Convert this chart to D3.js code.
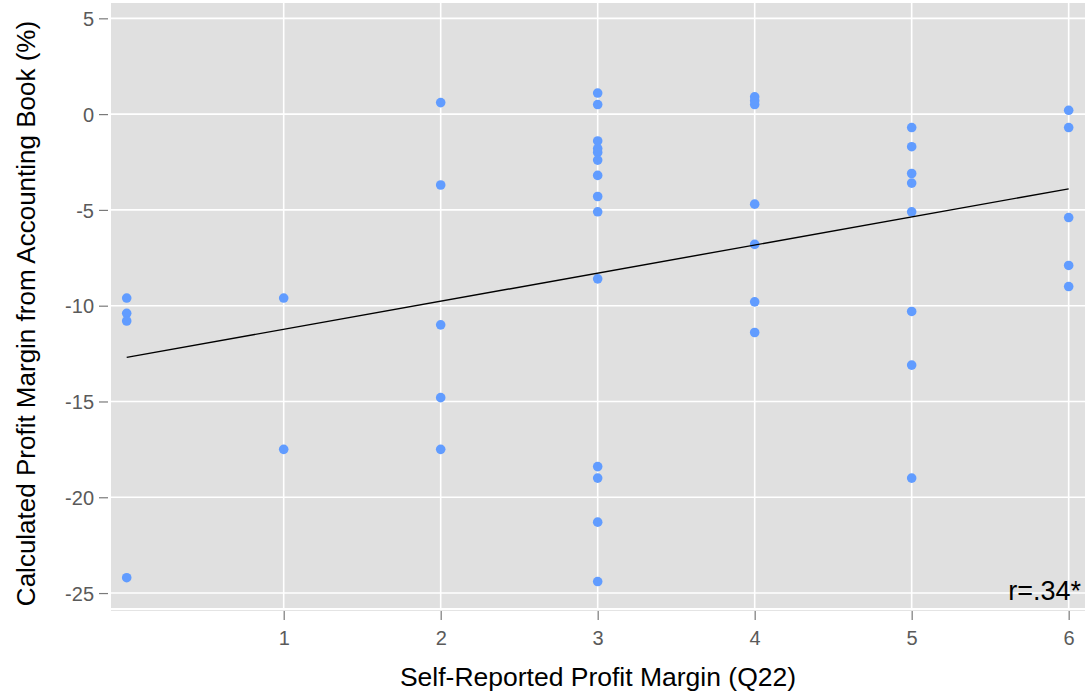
<!DOCTYPE html>
<html>
<head>
<meta charset="utf-8">
<script src="https://d3js.org/d3.v7.min.js"></script>
<style>
  body { margin: 0; background: #fff; }
  svg { display: block; font-family: "Liberation Sans", Arial, sans-serif; }
</style>
</head>
<body>
<div id="chart"></div>
<script>
'use strict';

// self-reported margin (Q22) for each respondent
var selfReported = [
  0, 0, 0, 0,
  1, 1,
  2, 2, 2, 2, 2,
  3, 3, 3, 3, 3, 3, 3, 3, 3, 3, 3, 3, 3, 3,
  4, 4, 4, 4, 4, 4, 4,
  5, 5, 5, 5, 5, 5, 5, 5,
  6, 6, 6, 6, 6
];
// calculated margin from the accounting book (%)
var calculated = [
  -9.6, -10.4, -10.8, -24.2,
  -9.6, -17.5,
  0.6, -3.7, -11.0, -14.8, -17.5,
  1.1, 0.5, -1.4, -1.8, -2.0, -2.4, -3.2, -4.3, -5.1, -8.6, -18.4, -19.0, -21.3, -24.4,
  0.9, 0.7, 0.5, -4.7, -6.8, -9.8, -11.4,
  -0.7, -1.7, -3.1, -3.6, -5.1, -10.3, -13.1, -19.0,
  0.2, -0.7, -5.4, -7.9, -9.0
];
// fitted line (x, y)
var fitX = [0, 6];
var fitY = [-12.7, -3.9];

var xTicks = [1, 2, 3, 4, 5, 6];
var yTicks = [5, 0, -5, -10, -15, -20, -25];

var W = 1087, H = 700;
var margin = { top: 3, right: 2, bottom: 92, left: 111 };
var width = W - margin.left - margin.right,
    height = H - margin.top - margin.bottom;

var x = d3.scaleLinear().domain([-0.1, 6.104]).range([0, width]);
var y = d3.scaleLinear().domain([-25.78, 5.8]).range([height, 0]);

var svg = d3.select('#chart').append('svg')
  .attr('width', W)
  .attr('height', H);

var g = svg.append('g')
  .attr('transform', 'translate(' + margin.left + ',' + margin.top + ')');

// panel background
g.append('rect')
  .attr('width', width)
  .attr('height', height)
  .attr('fill', '#e0e0e0');

// faint line just under the panel
g.append('line')
  .attr('x1', 0).attr('x2', width)
  .attr('y1', height + 2.5).attr('y2', height + 2.5)
  .attr('stroke', '#e4e4e4')
  .attr('stroke-width', 1);

// grid lines
g.append('g').selectAll('line').data(xTicks).join('line')
  .attr('x1', function (d) { return x(d); })
  .attr('x2', function (d) { return x(d); })
  .attr('y1', 0).attr('y2', height)
  .attr('stroke', '#fff').attr('stroke-width', 1.6);

g.append('g').selectAll('line').data(yTicks).join('line')
  .attr('y1', function (d) { return y(d); })
  .attr('y2', function (d) { return y(d); })
  .attr('x1', 0).attr('x2', width)
  .attr('stroke', '#fff').attr('stroke-width', 1.6);

// axes
var xAxis = d3.axisBottom(x).tickValues(xTicks).tickSize(9).tickPadding(6)
  .tickFormat(d3.format('d'));
var axisX = g.append('g')
  .attr('transform', 'translate(0,' + (height + 3) + ')')
  .call(xAxis);

var yAxis = d3.axisLeft(y).tickValues(yTicks).tickSize(9).tickPadding(5)
  .tickFormat(function (d) { return d; });
var axisY = g.append('g')
  .attr('transform', 'translate(-3,0)')
  .call(yAxis);

[axisX, axisY].forEach(function (a) {
  a.select('.domain').remove();
  a.selectAll('.tick line').attr('stroke', '#7a7a7a').attr('stroke-width', 1.2);
  a.selectAll('.tick text')
    .attr('fill', '#5a5a5a')
    .style('font-size', '20px');
});
axisX.selectAll('.tick text').attr('dy', '0.95em');
axisY.selectAll('.tick text').attr('dy', '0.36em');

// points
var pts = selfReported.map(function (v, i) { return { x: v, y: calculated[i] }; });
g.append('g').selectAll('circle').data(pts).join('circle')
  .attr('cx', function (d) { return x(d.x); })
  .attr('cy', function (d) { return y(d.y); })
  .attr('r', 4.8)
  .attr('fill', '#619cff');

// regression line
var fit = fitX.map(function (v, i) { return [v, fitY[i]]; });
g.append('path')
  .datum(fit)
  .attr('fill', 'none')
  .attr('stroke', '#000')
  .attr('stroke-width', 1.4)
  .attr('d', d3.line()
    .x(function (d) { return x(d[0]); })
    .y(function (d) { return y(d[1]); }));

// correlation label
g.append('text')
  .attr('x', width - 4)
  .attr('y', height - 8)
  .attr('text-anchor', 'end')
  .style('font-size', '27px')
  .attr('fill', '#000')
  .text('r=.34*');

// axis titles
svg.append('text')
  .attr('x', margin.left + width / 2)
  .attr('y', 686)
  .attr('text-anchor', 'middle')
  .style('font-size', '26.5px')
  .attr('fill', '#000')
  .text('Self-Reported Profit Margin (Q22)');

svg.append('text')
  .attr('transform', 'translate(35,' + (margin.top + height / 2 + 8) + ') rotate(-90)')
  .attr('text-anchor', 'middle')
  .style('font-size', '26px')
  .attr('fill', '#000')
  .text('Calculated Profit Margin from Accounting Book (%)');
</script>
</body>
</html>
